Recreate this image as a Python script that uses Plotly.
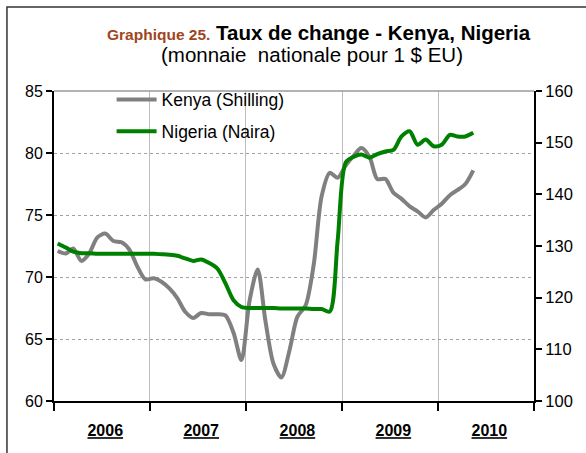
import plotly.graph_objects as go

# ---- data (monthly, Jan 2006 - May 2010) ----
start_year = 2006
kenya = [72.1, 71.9, 72.3, 71.3, 71.9, 73.2, 73.5, 72.9, 72.8, 72.2, 70.8, 69.8,
         69.9, 69.6, 69.1, 68.3, 67.2, 66.7, 67.1, 67.0, 67.0, 66.9, 65.5, 63.3,
         68.1, 70.6, 66.5, 63.0, 61.9, 64.1, 66.8, 67.7, 71.0, 76.5, 78.4, 78.0,
         79.0, 79.8, 80.4, 79.7, 77.9, 77.9, 76.8, 76.3, 75.7, 75.3, 74.8, 75.4,
         75.9, 76.6, 77.0, 77.5, 78.6]
nigeria = [130.5, 129.7, 128.9, 128.6, 128.6, 128.5, 128.5, 128.5, 128.5, 128.5, 128.5, 128.5,
           128.5, 128.4, 128.3, 128.1, 127.6, 127.1, 127.4, 126.7, 125.6, 122.8, 119.5, 118.2,
           118.0, 118.0, 118.0, 118.0, 117.9, 117.9, 117.9, 117.9, 117.8, 117.8, 117.3, 131.0,
           146.2, 147.3, 147.7, 147.1, 147.8, 148.3, 148.6, 151.2, 152.2, 149.6, 150.6, 149.3,
           149.6, 151.5, 151.2, 151.2, 151.9]
years = ["2006", "2007", "2008", "2009", "2010"]
left_ticks = [60, 65, 70, 75, 80, 85]
right_ticks = [100, 110, 120, 130, 140, 150, 160]

dates = [f"{start_year + i // 12}-{i % 12 + 1:02d}-15" for i in range(len(kenya))]
year_label_pos = [f"{y}-07-15" for y in years]

font = "Arial, Liberation Sans, sans-serif"

fig = go.Figure()
fig.add_trace(go.Scatter(x=dates, y=kenya, name="Kenya (Shilling)", mode="lines",
                         line=dict(color="#808080", width=4, shape="spline", smoothing=0.8),
                         legendgroup="k"))
fig.add_trace(go.Scatter(x=dates, y=nigeria, name="Nigeria (Naira)", mode="lines",
                         line=dict(color="#008000", width=4, shape="spline", smoothing=0.8),
                         yaxis="y2", legendgroup="n"))

fig.update_layout(
    width=586, height=453,
    margin=dict(l=54, r=52, t=91, b=52),
    paper_bgcolor="white", plot_bgcolor="white",
    font=dict(family=font, size=16, color="black"),
    showlegend=True,
    legend=dict(x=0.12, y=1.03, xanchor="left", yanchor="top", bgcolor="rgba(0,0,0,0)",
                font=dict(size=17.5), traceorder="grouped", tracegroupgap=6,
                itemwidth=40),
    xaxis=dict(
        type="date", range=[f"{start_year}-01-01", f"{int(years[-1]) + 1}-01-01"],
        tickmode="array", tickvals=year_label_pos,
        ticktext=[f"<b><u>{y}</u></b>" for y in years],
        ticks="", showgrid=False, zeroline=False,
        showline=True, linecolor="black", linewidth=2,
        tickfont=dict(size=16), ticklabelstandoff=14,
        minor=dict(tickmode="linear", tick0=f"{start_year}-01-01", dtick="M12",
                   showgrid=True, gridcolor="#bdbdbd", gridwidth=1,
                   ticks="outside", ticklen=8, tickwidth=2, tickcolor="black"),
    ),
    yaxis=dict(
        range=[60, 85], tickmode="array", tickvals=left_ticks,
        showgrid=True, gridcolor="#a0a0a0", griddash="dot", gridwidth=1,
        showline=True, linecolor="black", linewidth=2,
        ticks="outside", ticklen=6, tickwidth=1.5, tickcolor="black",
        zeroline=False, tickfont=dict(size=16),
    ),
    yaxis2=dict(
        range=[100, 160], tickmode="array", tickvals=right_ticks,
        overlaying="y", side="right", showgrid=False,
        showline=True, linecolor="black", linewidth=2,
        ticks="outside", ticklen=6, tickwidth=1.5, tickcolor="black",
        zeroline=False, tickfont=dict(size=16.5),
    ),
    shapes=[
        dict(type="line", xref="paper", yref="paper", x0=0, x1=1, y0=1, y1=1,
             line=dict(color="#9a9a9a", width=1.5)),
        dict(type="path", xref="paper", yref="paper",
             path="M -0.098,-0.3 L -0.098,1.271 L 1.2,1.271",
             line=dict(color="#333333", width=1.5)),
    ],
    annotations=[
        dict(xref="paper", yref="paper", x=0.552, y=1.19, xanchor="center", yanchor="middle",
             showarrow=False,
             text="<span style='color:#A0461E;font-size:15.5px'><b>Graphique 25.</b></span>"
                  " <b>Taux de change - Kenya, Nigeria</b>",
             font=dict(size=20.5, family=font, color="black")),
        dict(xref="paper", yref="paper", x=0.5375, y=1.119, xanchor="center", yanchor="middle",
             showarrow=False, text="(monnaie&nbsp; nationale pour 1 $ EU)",
             font=dict(size=20.5, family=font, color="black")),
    ],
)

fig.write_html("out.html", config={"displayModeBar": False},
               post_script="document.body.style.margin='0';")
